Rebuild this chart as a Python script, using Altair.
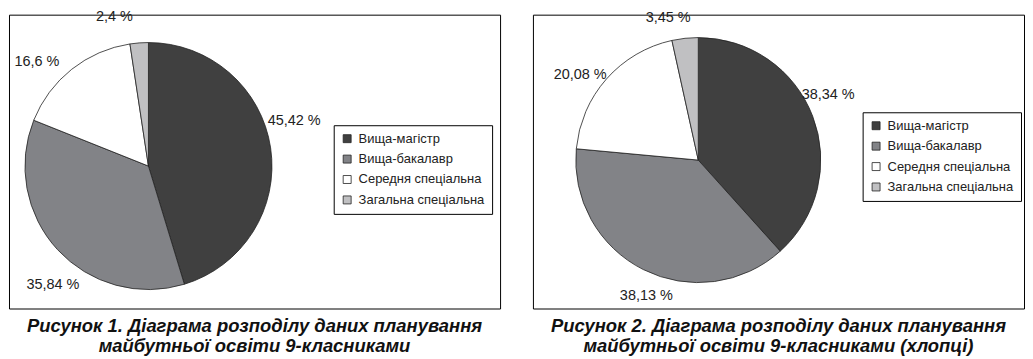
import altair as alt
import pandas as pd

categories = ["Вища-магістр", "Вища-бакалавр", "Середня спеціальна", "Загальна спеціальна"]
values_all = [45.42, 35.84, 16.6, 2.4]
values_boys = [38.34, 38.13, 20.08, 3.45]
labels_all = ["45,42 %", "35,84 %", "16,6 %", "2,4 %"]
labels_boys = ["38,34 %", "38,13 %", "20,08 %", "3,45 %"]
slice_colors = ["#404040", "#828387", "#ffffff", "#c0c0c2"]
caption_1 = ["Рисунок 1. Діаграма розподілу даних планування", "майбутньої освіти 9-класниками"]
caption_2 = ["Рисунок 2. Діаграма розподілу даних планування", "майбутньої освіти 9-класниками (хлопці)"]

PW, PH = 493, 295


def panel(values, labels, caption, cx, cy, r, lab_r, lab_off, leg_x, leg_y):
    df = pd.DataFrame({"cat": categories, "value": values, "label": labels,
                       "idx": list(range(len(categories)))})
    base = alt.Chart(df).encode(
        theta=alt.Theta("value:Q", stack=True),
        order=alt.Order("idx:Q"),
    )
    color = alt.Color(
        "cat:N",
        sort=categories,
        scale=alt.Scale(domain=categories, range=slice_colors),
        legend=alt.Legend(
            title=None, orient="none", legendX=leg_x, legendY=leg_y,
            strokeColor="black", padding=7, fillColor="white",
            symbolType="square", symbolSize=64, symbolStrokeColor="#222",
            symbolStrokeWidth=0.8, symbolOpacity=1,
            labelFont="Liberation Sans", labelFontSize=13, labelColor="#222",
            rowPadding=6.5, labelOffset=5, labelLimit=300,
        ),
    )
    pie = base.mark_arc(radius=r, stroke="#222", strokeWidth=0.8).encode(
        color=color, x=alt.value(cx), y=alt.value(cy)
    )
    txt = base.mark_text(radius=lab_r, thetaOffset=lab_off, font="Liberation Sans",
                         fontSize=14.5, color="#222").encode(
        text="label:N", x=alt.value(cx), y=alt.value(cy)
    )
    return alt.layer(pie, txt).properties(
        width=PW, height=PH,
        title=alt.TitleParams(
            text=caption, orient="bottom", anchor="middle", offset=9,
            font="Liberation Sans", fontSize=18.5,
            fontWeight="bold", fontStyle="italic", color="#111", lineHeight=20,
        ),
    )


p1 = panel(values_all, labels_all, caption_1, 140, 152, 124, 153, -0.15, 326, 111)
p2 = panel(values_boys, labels_boys, caption_2, 166, 146, 123, 146, -0.1, 331, 98)

chart = alt.hconcat(p1, p2, spacing=31).resolve_scale(
    color="independent", theta="independent"
).resolve_legend(color="independent").properties(padding=0).configure_view(
    stroke="black", strokeWidth=1
)

chart.save("out.html", embed_options={"renderer": "svg", "actions": False})
